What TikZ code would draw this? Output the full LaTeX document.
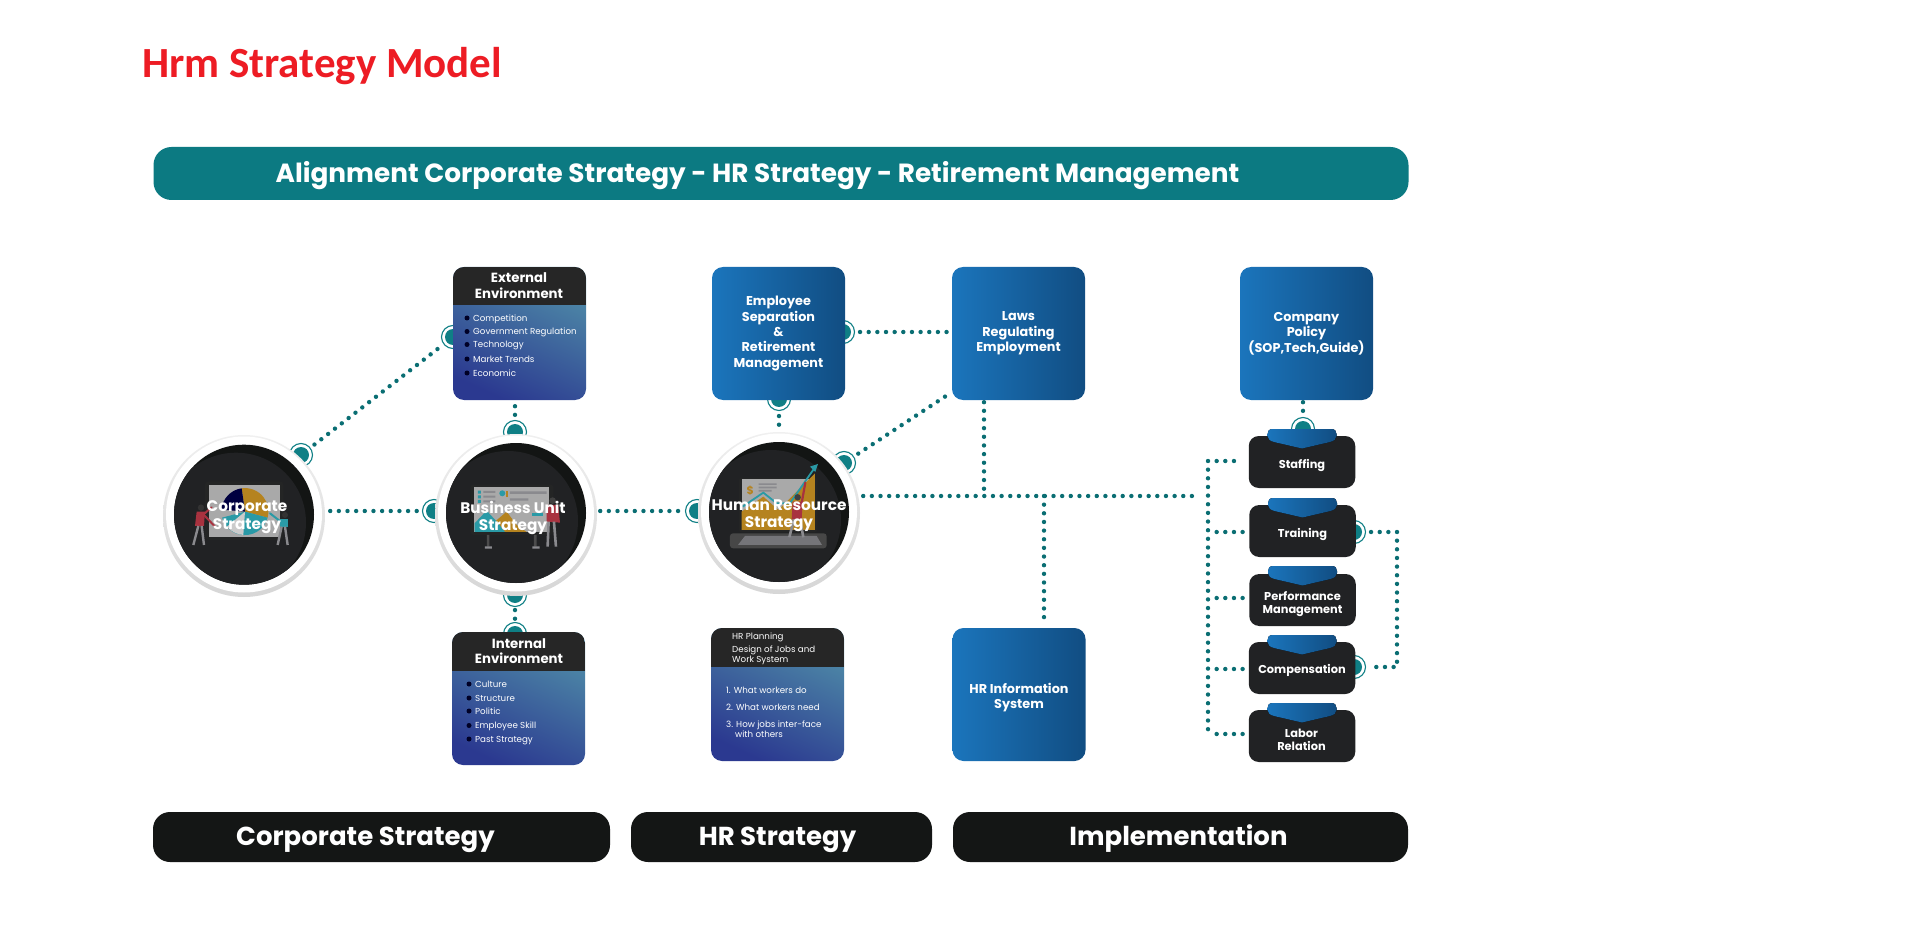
\documentclass[tikz,border=0pt]{standalone}
\usepackage{fontspec}
\setmainfont{Poppins}
\newfontfamily\titlefont{Carlito}
\usetikzlibrary{calc}
\definecolor{dotc}{HTML}{0A6E73}
\definecolor{ringc}{HTML}{0F7F85}
\definecolor{bannerc}{HTML}{0C7A82}
\definecolor{barc}{HTML}{141615}
\definecolor{hdrc}{HTML}{262626}
\definecolor{darkc}{HTML}{212224}
\definecolor{rimc}{HTML}{131514}
\definecolor{blueL}{HTML}{1B75BC}
\definecolor{blueR}{HTML}{114D82}
\definecolor{gradT}{HTML}{4F8CA8}
\definecolor{gradB}{HTML}{2B3990}
\definecolor{titlec}{HTML}{ED1C24}
\definecolor{scrc}{HTML}{A9A9A9}
\definecolor{goldc}{HTML}{B5831F}
\definecolor{tealc}{HTML}{2A9AA6}
\definecolor{redc}{HTML}{A8323F}
\definecolor{legc}{HTML}{8A8A8E}
\pgfdeclarelayer{bg}
\pgfsetlayers{bg,main}
\tikzset{
  dots/.style={draw=dotc,line width=4.4pt,line cap=round,dash pattern=on 0pt off 8.65pt},
  ringnode/.style={circle,draw=ringc,line width=1.1pt,fill=white,minimum size=23pt,inner sep=0pt,
    path picture={\fill[ringc] (path picture bounding box.center) circle (8pt);}},
  bluebox/.style={rectangle,rounded corners=11pt,minimum width=133pt,minimum height=133pt,inner sep=0pt,
    left color=blueL,right color=blueR,text=white,align=center,font=\fontsize{12.8}{15.3}\selectfont\bfseries},
  gradbox/.style={rectangle,rounded corners=11pt,minimum width=133pt,minimum height=133pt,inner sep=0pt,
    top color=gradT,bottom color=gradB,shading angle=-25},
  darkbox/.style={rectangle,rounded corners=10pt,minimum width=106.5pt,minimum height=52pt,inner sep=0pt,fill=darkc},
  bar/.style={rectangle,rounded corners=17pt,fill=barc,minimum height=50pt,inner sep=0pt},
  bartext/.style={text=white,font=\fontsize{26}{28}\selectfont\bfseries,inner sep=0pt,anchor=base},
  hdtext/.style={text=white,align=center,inner sep=0pt,font=\fontsize{13.3}{15.3}\selectfont\bfseries},
  itemtext/.style={text=white,inner sep=0pt,anchor=base west,font=\fontsize{8.7}{11}\selectfont},
  circtext/.style={text=white,align=center,inner sep=0pt,font=\fontsize{15.3}{17.4}\selectfont\bfseries},
  tasktext/.style={text=white,align=center,inner sep=0pt,font=\fontsize{11.4}{13.4}\selectfont\bfseries},
  outerdisc/.style={circle,minimum size=162pt,inner sep=0pt,top color=white!94!black,bottom color=white!84!black},
  tabpic/.pic={
    \fill[left color=blueL,right color=blueR]
      (-29,0) -- (29,0) .. controls (33,0) and (34.5,2) .. (34.5,5) -- (34.5,7)
      .. controls (34.5,10) and (32,12) .. (28,13) -- (0,19.5) -- (-28,13)
      .. controls (-32,12) and (-34.5,10) .. (-34.5,7) -- (-34.5,5)
      .. controls (-34.5,2) and (-33,0) .. (-29,0) -- cycle;
  }
}
\newcommand{\discset}[3]{% outer centre x,y ; inner centre
  \fill[white] (#1,#2-1.5) circle (78pt);
  \fill[rimc] (#1,#3) circle (70pt);
  \begin{scope}
    \clip (#1,#3) circle (70pt);
    \fill[darkc] (#1-8,#3+8) circle (70pt);
  \end{scope}
}
\begin{document}
\begin{tikzpicture}[x=1pt,y=-1pt]
\useasboundingbox (0,0) rectangle (1920,925);
\begin{pgfonlayer}{bg}
\fill[white] (0,0) rectangle (1920,925);
\end{pgfonlayer}

% title and banner
\node[anchor=base west,inner sep=0pt,text=titlec,font=\titlefont\fontsize{43}{48}\selectfont\bfseries] (title) at (142,78) {Hrm Strategy Model};
\node[rectangle,rounded corners=18pt,fill=bannerc,minimum width=1255pt,minimum height=53pt,inner sep=0pt] (banner) at (781,173.5) {};
\node[text=white,inner sep=0pt,anchor=base,font=\fontsize{26.3}{28}\selectfont\bfseries] (bannertext) at (757.5,183) {Alignment Corporate Strategy - HR Strategy - Retirement Management};

% bottom bars
\node[bar,minimum width=457pt] (barA) at (381.5,837) {};
\node[bar,minimum width=301pt] (barB) at (781.5,837) {};
\node[bar,minimum width=455pt] (barC) at (1180.5,837) {};
\node[bartext] (barAt) at (365.5,845) {Corporate Strategy};
\node[bartext] (barBt) at (777.5,845) {HR Strategy};
\node[bartext] (barCt) at (1178.5,845) {Implementation};

% circles
\node[outerdisc] (corp) at (244,516) {};
\node[outerdisc] (biz) at (516,515) {};
\node[outerdisc] (hr) at (779,513) {};
\discset{244}{516}{514.7}
\discset{516}{515}{513}
\discset{779}{513}{512}

% illustration: corporate
\begin{scope}[shift={(130,240)},x=.3333pt,y=-.3333pt]
  \fill[hdrc!70!darkc,rounded corners=3pt] (225,725) rectangle (460,900);
  \fill[scrc] (237,735) rectangle (449,892);
  \fill[goldc] (345,815) -- (335,745) arc[start angle=-98,end angle=15,radius=70.7] -- cycle;
  \fill[tealc] (345,815) -- (413,833) arc[start angle=15,end angle=165,radius=70.7] -- cycle;
  \fill[scrc!60!white] (345,815) -- (340,885) arc[start angle=94,end angle=140,radius=70.7] -- cycle;
  \fill[black!75!blue] (345,815) -- (335,745) arc[start angle=-98,end angle=-175,radius=70.7] -- cycle;
  \fill[black!80] (213,803) circle (3.2pt);
  \fill[redc] (200,815) -- (225,815) -- (222,858) -- (195,858) -- cycle;
  \draw[redc,line width=2pt,line cap=round] (222,825) -- (255,860);
  \draw[redc,line width=2pt,line cap=round] (222,822) -- (245,802);
  \draw[legc,line width=2.4pt] (205,858) -- (190,915) (215,858) -- (222,915);
  \fill[black!80] (465,825) circle (3pt);
  \fill[tealc] (450,838) -- (473,838) -- (473,860) -- (450,860) -- cycle;
  \draw[tealc,line width=2pt,line cap=round] (452,845) -- (420,820);
  \draw[legc,line width=2.4pt] (455,860) -- (443,915) (465,860) -- (473,915);
\end{scope}

% illustration: business unit
\begin{scope}[shift={(130,240)},x=.3333pt,y=-.3333pt]
  \fill[hdrc!70!darkc,rounded corners=3pt] (1022,733) rectangle (1270,885);
  \fill[scrc] (1033,742) rectangle (1258,876);
  \fill[tealc] (1044,752) rectangle (1053,761) (1044,766) rectangle (1053,775) (1044,780) rectangle (1053,789);
  \fill[legc] (1060,753) rectangle (1096,759) (1060,767) rectangle (1096,773) (1060,781) rectangle (1096,787);
  \fill[tealc] (1117,760) circle (3pt);
  \fill[goldc] (1129,752) rectangle (1134,770);
  \fill[legc] (1140,754) rectangle (1250,762) (1140,775) rectangle (1195,782);
  \fill[goldc] (1050,876) -- (1095,845) -- (1130,815) -- (1160,855) -- (1190,876) -- cycle;
  \fill[tealc] (1034,876) -- (1034,850) -- (1070,812) -- (1105,850) -- (1125,876) -- cycle;
  \fill[tealc] (1205,820) rectangle (1240,828);
  \fill[black!70] (1071,885) rectangle (1078,920) (1212,885) rectangle (1220,920);
  \fill[legc] (1065,919) rectangle (1086,926) (1207,919) rectangle (1229,926);
  \fill[black!75] (1268,782) circle (3.3pt);
  \fill[redc] (1250,795) -- (1285,795) -- (1290,848) -- (1250,845) -- cycle;
  \draw[legc,line width=2.6pt] (1256,845) -- (1253,920) (1272,845) -- (1278,920);
\end{scope}

% illustration: human resource
\begin{scope}[shift={(620,240)},x=.3333pt,y=-.3333pt]
  \fill[black!72,rounded corners=3pt] (330,880) -- (620,880) -- (620,925) -- (330,925) -- cycle;
  \fill[legc!80!darkc] (375,888) -- (590,888) -- (606,915) -- (354,915) -- cycle;
  \fill[hdrc!70!darkc,rounded corners=3pt] (357,712) rectangle (592,878);
  \fill[scrc] (365,718) rectangle (585,870);
  \fill[goldc] (365,870) -- (365,815) -- (430,770) -- (475,810) -- (585,700) -- (585,870) -- cycle;
  \node[text=goldc,inner sep=0pt,font=\fontsize{11}{11}\selectfont\bfseries] (dollar) at (391,751) {\$};
  \fill[legc] (416,730) rectangle (470,735) (416,740) rectangle (470,745) (416,750) rectangle (455,755);
  \draw[tealc,line width=1.8pt] (368,800) -- (430,758) -- (470,790) -- (510,790) -- (585,682);
  \fill[tealc] (594,672) -- (570,680) -- (586,696) -- cycle;
  \fill[black!75] (533,772) circle (3.2pt);
  \fill[redc] (518,785) -- (548,785) -- (545,838) -- (515,838) -- cycle;
  \draw[redc,line width=2.2pt,line cap=round] (545,790) -- (556,728);
  \draw[legc,line width=2.6pt] (522,838) -- (508,892) (540,838) -- (550,892);
\end{scope}

% circle labels
\node[circtext] (corpt) at (247,517) {Corporate\\Strategy};
\node[circtext] (bizt) at (513,518) {Business Unit\\Strategy};
\node[circtext] (hrt) at (779,516) {Human Resource\\Strategy};

% gradient boxes
\node[gradbox] (ext) at (519.5,333.5) {};
\begin{scope}
  \clip[rounded corners=11pt] (453,267) rectangle (586,400);
  \fill[hdrc] (453,267) rectangle (586,305);
\end{scope}
\node[hdtext] (extH) at (519,285.5) {External\\Environment};
\foreach \i/\y/\t in {1/318/Competition,2/331.5/Government Regulation,3/344.5/Technology,4/359/Market Trends,5/373/Economic}{
  \fill[black!85!blue] (467,\y) circle (2.5pt);
  \node[itemtext,name=extI\i] at (473,\y+3.4) {\t};
}
\node[gradbox] (int) at (518.5,698.5) {};
\begin{scope}
  \clip[rounded corners=11pt] (452,632) rectangle (585,765);
  \fill[hdrc] (452,632) rectangle (585,671);
\end{scope}
\node[hdtext] (intH) at (519,651) {Internal\\Environment};
\foreach \i/\y/\t in {1/684/Culture,2/698/Structure,3/711/Politic,4/725.5/Employee Skill,5/739/Past Strategy}{
  \fill[black!85!blue] (469,\y) circle (2.5pt);
  \node[itemtext,name=intI\i] at (475,\y+3.4) {\t};
}
\node[gradbox] (plan) at (777.5,694.5) {};
\begin{scope}
  \clip[rounded corners=11pt] (711,628) rectangle (844,761);
  \fill[hdrc] (711,628) rectangle (844,667);
\end{scope}
\fill[black!85] (725,636) circle (2.5pt) (725,649) circle (2.5pt);
\node[itemtext,name=planA] at (732,639.4) {HR Planning};
\node[itemtext,name=planB] at (732,652.4) {Design of Jobs and};
\node[itemtext,name=planC] at (732,662.4) {Work System};
\node[itemtext,name=planD] at (726,693.4) {1. What workers do};
\node[itemtext,name=planE] at (726,710.4) {2. What workers need};
\node[itemtext,name=planF] at (726,727.4) {3. How jobs inter-face};
\node[itemtext,name=planG] at (735,737.4) {with others};

% blue boxes
\node[bluebox] (emp) at (778.5,333.5) {Employee\\Separation\\\&\\Retirement\\Management};
\node[bluebox] (laws) at (1018.5,333.5) {Laws\\Regulating\\Employment};
\node[bluebox] (pol) at (1306.5,333.5) {Company\\Policy\\(SOP,Tech,Guide)};
\node[bluebox] (hris) at (1019,694.5) {};
\node[hdtext,font=\fontsize{12.8}{15.3}\selectfont\bfseries] (hrisT) at (1019,697.5) {HR Information\\System};

% task boxes
\node[darkbox] (staff) at (1302,462) {};
\node[darkbox] (train) at (1302.5,531) {};
\node[darkbox] (perf) at (1302.5,600) {};
\node[darkbox] (comp) at (1302,668) {};
\node[darkbox] (labor) at (1302,736) {};
\pic at (1302,429) {tabpic};
\pic at (1302.5,498) {tabpic};
\pic at (1302.5,566) {tabpic};
\pic at (1302,635) {tabpic};
\pic at (1302,703) {tabpic};
\node[tasktext] (staffT) at (1302,466) {Staffing};
\node[tasktext] (trainT) at (1302.5,534) {Training};
\node[tasktext] (perfT) at (1302.5,604) {Performance\\Management};
\node[tasktext] (compT) at (1302,670) {Compensation};
\node[tasktext] (laborT) at (1301.5,740) {Labor\\Relation};

\begin{pgfonlayer}{bg}
  \node[ringnode] (r1) at (301,455) {};
  \node[ringnode] (r2) at (453,337) {};
  \node[ringnode] (r3) at (434,511) {};
  \node[ringnode] (r4) at (697,511) {};
  \node[ringnode] (r5) at (515,432) {};
  \node[ringnode] (r6) at (515,595) {};
  \node[ringnode] (r7) at (515,634) {};
  \node[ringnode] (r8) at (843,332) {};
  \node[ringnode] (r9) at (779,399) {};
  \node[ringnode] (r11) at (844,463) {};
  \node[ringnode] (r12) at (1354,532) {};
  \node[ringnode] (r13) at (1354,667) {};
  \node[ringnode] (r14) at (1303,429) {};
  \coordinate (lawsC) at (952,392);
  \coordinate (j1) at (984,496);
  \coordinate (j2) at (1044,496);
  \coordinate (bj) at (1208,496);
  \coordinate (bt) at (1208,461);
  \coordinate (bb) at (1208,734);
  \coordinate (bs) at (1208,532);
  \coordinate (bp) at (1208,598);
  \coordinate (bc) at (1208,669);
  \coordinate (cr1) at (1397,532);
  \coordinate (cr2) at (1397,667);

  \draw[dots,shorten <=5pt,shorten >=6pt] (r1) -- (r2);
  \draw[dots,shorten <=5pt,shorten >=5pt] (r3 -| corp.east) -- (r3);
  \draw[dots,shorten <=3pt,shorten >=5pt] (r4 -| biz.east) -- (r4);
  \draw[dots,shorten <=6pt,shorten >=1pt] (ext.south -| r5) -- (r5);
  \draw[dots,shorten <=3pt,shorten >=2pt] (r6) -- (r7);
  \draw[dots,shorten <=5pt,shorten >=4pt] (r8) -- (laws.west |- r8);
  \draw[dots,shorten <=5pt,shorten >=6pt] (r9) -- (hr.north -| r9);
  \draw[dots,shorten <=5pt] (r11) -- (lawsC);
  \draw[dots,shorten <=3pt,shorten >=9pt] (bj -| hr.east) -- (bj);
  \draw[dots,shorten <=2pt] (laws.south -| j1) -- (j1);
  \draw[dots,shorten >=3pt] (j2) -- (hris.north -| j2);
  \draw[dots] (bt) -- (bb);
  \draw[dots,shorten >=6pt,shorten <=8.65pt] (bt) -- (staff.west |- bt);
  \draw[dots,shorten >=4pt,shorten <=8.65pt] (bs) -- (train.west |- bs);
  \draw[dots,shorten >=4pt,shorten <=8.65pt] (bp) -- (perf.west |- bp);
  \draw[dots,shorten >=4pt,shorten <=8.65pt] (bc) -- (comp.west |- bc);
  \draw[dots,shorten >=4pt,shorten <=8.65pt] (bb) -- (labor.west |- bb);
  \draw[dots,shorten <=5pt,shorten >=5pt] (r12) -- (cr1) -- (cr2) -- (r13);
  \draw[dots,shorten <=2pt] (pol.south -| r14) -- (r14);
\end{pgfonlayer}
\end{tikzpicture}
\end{document}
